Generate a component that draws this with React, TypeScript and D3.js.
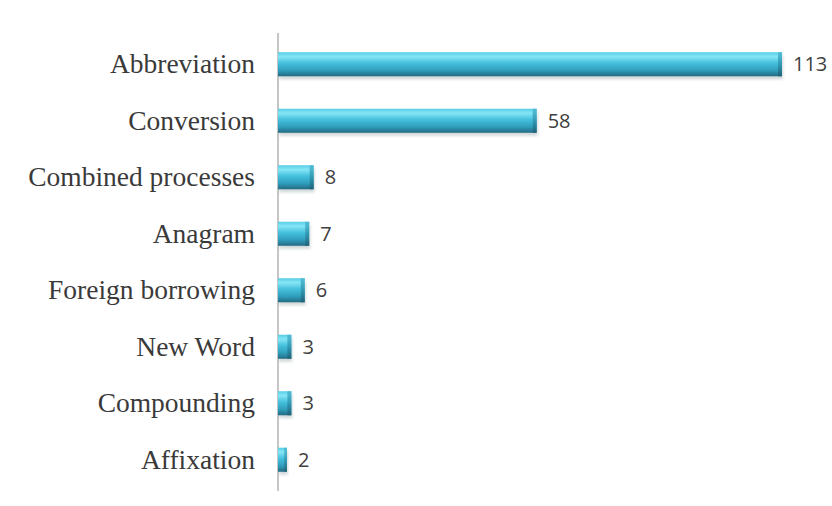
import React from "react";
import * as d3 from "d3";

const categories = [
  "Abbreviation",
  "Conversion",
  "Combined processes",
  "Anagram",
  "Foreign borrowing",
  "New Word",
  "Compounding",
  "Affixation",
];
const values = [113, 58, 8, 7, 6, 3, 3, 2];

const W = 832;
const H = 506;
const axisX = 278;

export default function App() {
  const x = d3.scaleLinear().domain([0, 113]).range([axisX, 782]);
  const y = d3
    .scaleBand<string>()
    .domain(categories)
    .range([36, 488])
    .paddingInner(0.575)
    .paddingOuter(0.2875);
  const bh = y.bandwidth();

  return (
    <svg
      width={W}
      height={H}
      style={{ position: "absolute", left: 0, top: 0, background: "#fff" }}
    >
      <defs>
        <linearGradient id="cyl" x1="0" y1="0" x2="0" y2="1">
          <stop offset="0" stopColor="#55cde6" />
          <stop offset="0.18" stopColor="#86e6f6" />
          <stop offset="0.45" stopColor="#45c0dd" />
          <stop offset="0.75" stopColor="#2f9fbd" />
          <stop offset="1" stopColor="#226a83" />
        </linearGradient>
        <linearGradient id="cap" x1="0" y1="0" x2="0" y2="1">
          <stop offset="0" stopColor="#4ab8d2" />
          <stop offset="0.5" stopColor="#2f93ad" />
          <stop offset="1" stopColor="#1f5f75" />
        </linearGradient>
        <filter id="shadow" x="-10%" y="-50%" width="120%" height="200%">
          <feGaussianBlur stdDeviation="1.6" />
        </filter>
      </defs>
      <line
        x1={axisX}
        x2={axisX}
        y1={33}
        y2={491}
        stroke="#8c8c8c"
        strokeWidth={1}
      />
      {categories.map((c, i) => {
        const y0 = y(c) as number;
        const x1 = x(values[i]);
        const w = x1 - axisX;
        const capW = Math.min(4, w * 0.3);
        return (
          <g key={c}>
            <rect
              x={axisX + 1}
              y={y0 + 3}
              width={w}
              height={bh}
              fill="#9aa7ab"
              opacity={0.45}
              filter="url(#shadow)"
            />
            <rect x={axisX} y={y0} width={w} height={bh} fill="url(#cyl)" />
            <rect
              x={x1 - capW}
              y={y0}
              width={capW}
              height={bh}
              fill="url(#cap)"
              opacity={0.85}
            />
            <text
              x={axisX - 23}
              y={y0 + bh / 2}
              dy="0.33em"
              textAnchor="end"
              fontFamily="'Liberation Serif', 'Times New Roman', serif"
              fontSize={27.5}
              fill="#3a3a3a"
            >
              {c}
            </text>
            <text
              x={x1 + 11}
              y={y0 + bh / 2}
              dy="0.36em"
              fontFamily="'Open Sans', 'Liberation Sans', sans-serif"
              fontSize={20}
              fill="#404040"
            >
              {values[i]}
            </text>
          </g>
        );
      })}
    </svg>
  );
}
